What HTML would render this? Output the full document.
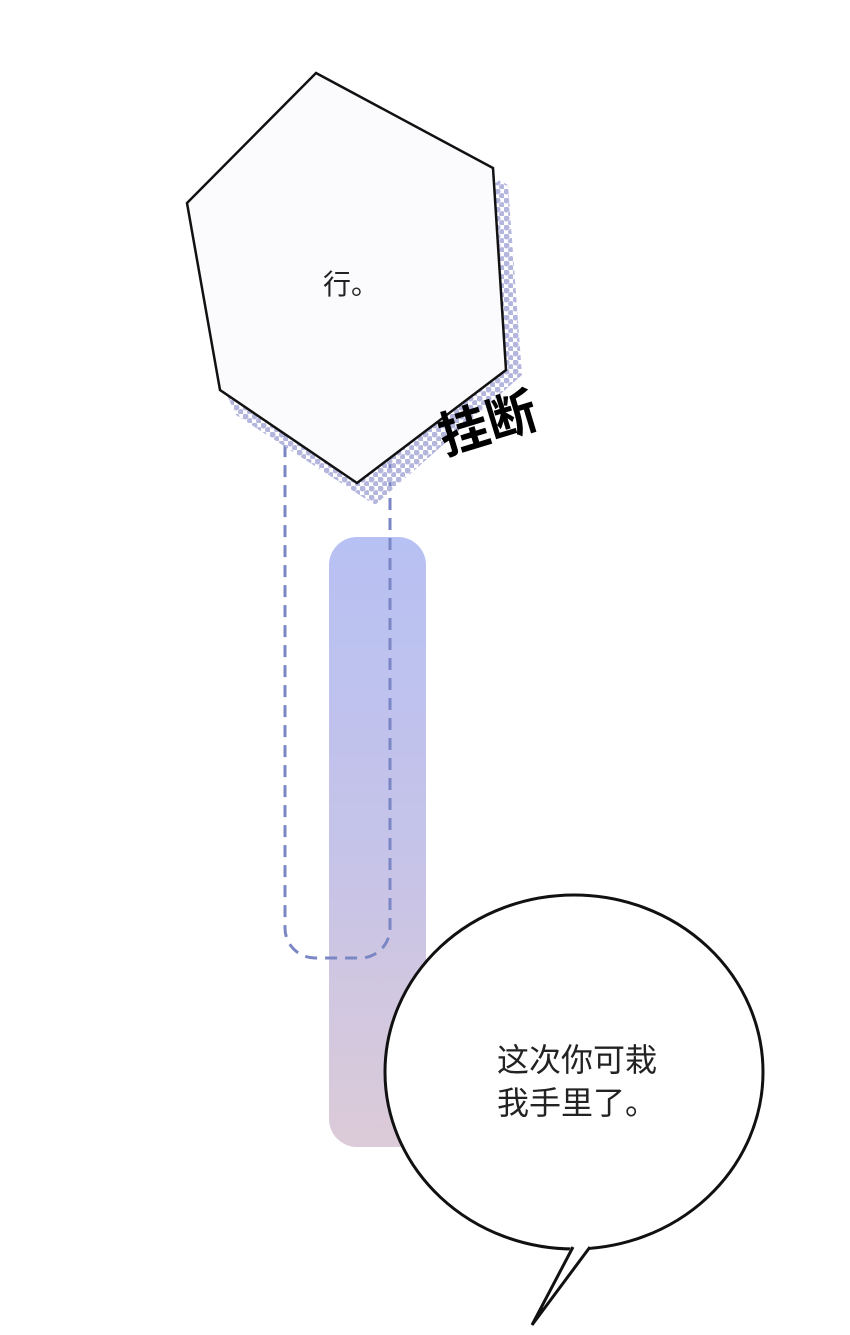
<!DOCTYPE html>
<html><head><meta charset="utf-8"><style>
html,body{margin:0;padding:0;background:#fff;}
svg{display:block;}
text{font-family:"Liberation Sans","Noto Sans CJK SC",sans-serif;}
</style></head><body>
<svg width="850" height="1335" viewBox="0 0 850 1335" xmlns="http://www.w3.org/2000/svg">
<defs>
<pattern id="dots" width="9" height="9" patternUnits="userSpaceOnUse">
<circle cx="2.5" cy="2.5" r="3" fill="#b5b6de"/>
<circle cx="7" cy="7" r="3" fill="#b5b6de"/>
</pattern>
<linearGradient id="bar" x1="0" y1="0" x2="0" y2="1">
<stop offset="0" stop-color="#b8c1f3"/>
<stop offset="0.5" stop-color="#c5c3e9"/>
<stop offset="1" stop-color="#dccbd8"/>
</linearGradient>
</defs>
<rect x="329" y="537" width="97" height="610" rx="28" fill="url(#bar)"/>
<rect x="285" y="380" width="105" height="578" rx="30" fill="none" stroke="#7b86c4" stroke-width="3" stroke-dasharray="12,8"/>
<polygon points="330,90 508,185 522,375 375,505 236,415 220,380 500,180" fill="url(#dots)"/>
<polygon points="316,73 493,168 506,370 357,483 220,390 187,203" fill="#fbfbfd" stroke="#111" stroke-width="2.5"/>
<text x="323" y="294" font-size="28" fill="#222">行。</text>
<text x="0" y="0" font-size="50" font-weight="bold" fill="#000" transform="translate(445,455) rotate(-17)">挂断</text>
<ellipse cx="574" cy="1072" rx="189" ry="177" fill="#fff" stroke="#111" stroke-width="3"/>
<polygon points="572,1245 532,1325 592,1245" fill="#fff"/>
<polyline points="573,1247 532,1325 590,1247" fill="none" stroke="#111" stroke-width="3" stroke-linejoin="miter"/>
<text x="497" y="1071" font-size="32" fill="#222">这次你可栽</text>
<text x="497" y="1114" font-size="32" fill="#222">我手里了。</text>
</svg>
</body></html>
